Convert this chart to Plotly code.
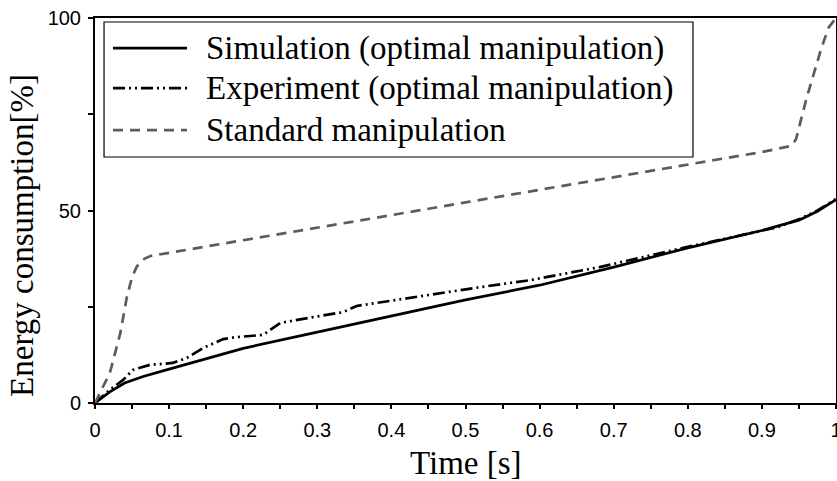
import plotly.graph_objects as go

# ---- data ----
time_sim = [0, 0.02, 0.04, 0.065, 0.1, 0.15, 0.2, 0.3, 0.4, 0.5, 0.6, 0.7, 0.8, 0.9, 0.95, 0.975, 1.0]
energy_sim = [0, 2.9, 5.2, 6.9, 8.8, 11.4, 14.2, 18.4, 22.6, 26.8, 30.6, 35.3, 40.3, 44.8, 47.5, 49.8, 52.8]

time_exp = [0, 0.02, 0.038, 0.051, 0.074, 0.105, 0.124, 0.146, 0.173, 0.19, 0.227, 0.25,
            0.294, 0.335, 0.353, 0.407, 0.475, 0.52, 0.587, 0.681, 0.794, 0.884, 0.92,
            0.95, 0.975, 1.0]
energy_exp = [0, 3.4, 6.0, 8.6, 9.9, 10.4, 11.7, 14.3, 16.6, 17.1, 17.7, 20.8,
              22.3, 23.6, 25.2, 26.8, 28.8, 30.1, 31.9, 35.3, 40.3, 44.2, 45.6,
              47.7, 50.0, 53.0]

time_std = [0, 0.007, 0.02, 0.034, 0.043, 0.05, 0.056, 0.061, 0.067, 0.075, 0.1, 0.2,
            0.3, 0.4, 0.5, 0.6, 0.7, 0.8, 0.9, 0.94, 0.946, 0.952, 0.96, 0.97, 0.98,
            0.99, 1.0]
energy_std = [0, 2.6, 7.8, 18, 27.5, 32.7, 35.3, 36.6, 37.5, 38.2, 39.0, 42.3,
              45.5, 48.8, 52.1, 55.4, 58.7, 62.0, 65.2, 66.8, 68.5, 73, 79, 85.5, 92,
              97.5, 100]

series_names = ["Simulation (optimal manipulation)",
                "Experiment (optimal manipulation)",
                "Standard manipulation"]

x_tick_vals = [0, 0.1, 0.2, 0.3, 0.4, 0.5, 0.6, 0.7, 0.8, 0.9, 1]
x_tick_text = ["0", "0.1", "0.2", "0.3", "0.4", "0.5", "0.6", "0.7", "0.8", "0.9", "1"]
y_tick_vals = [0, 50, 100]
y_tick_text = ["0", "50", "100"]

# ---- styles ----
styles = [
    dict(color="black", width=2.7, dash="solid"),
    dict(color="black", width=2.7, dash="12px,4px,2px,4px,2px,4px"),
    dict(color="#5c5c5c", width=2.7, dash="10px,7px"),
]

SERIF = "Liberation Serif"
SANS = "Liberation Sans"
TXT = 33

fig = go.Figure()
for xs, ys, name, st in [(time_sim, energy_sim, series_names[0], styles[0]),
                         (time_exp, energy_exp, series_names[1], styles[1]),
                         (time_std, energy_std, series_names[2], styles[2])]:
    fig.add_trace(go.Scatter(x=xs, y=ys, mode="lines", name=name, line=st,
                             showlegend=False))

# ---- manual legend (paper coordinates) ----
shapes = [dict(type="rect", xref="paper", yref="paper",
               x0=0.0122, x1=0.807, y0=0.639, y1=0.9896,
               line=dict(color="black", width=1.2), fillcolor="white", layer="above")]
annotations = []
rows = [0.922, 0.818, 0.709]
for i, (name, st) in enumerate(zip(series_names, styles)):
    shapes.append(dict(type="line", xref="paper", yref="paper",
                       x0=0.0243, x1=0.1242, y0=rows[i], y1=rows[i],
                       line=dict(color=st["color"], width=st["width"], dash=st["dash"]),
                       layer="above"))
    annotations.append(dict(xref="paper", yref="paper", x=0.147, y=rows[i],
                            xanchor="left", yanchor="middle", showarrow=False,
                            text=name, font=dict(family=SERIF, size=TXT, color="black")))

annotations.append(dict(xref="paper", yref="paper", x=-0.0985, y=0.434,
                        xanchor="center", yanchor="middle", showarrow=False,
                        textangle=-90, text="Energy consumption[%]",
                        font=dict(family=SERIF, size=TXT, color="black")))
annotations.append(dict(xref="paper", yref="paper", x=0.5, y=-0.156,
                        xanchor="center", yanchor="middle", showarrow=False,
                        text="Time [s]",
                        font=dict(family=SERIF, size=TXT, color="black")))

fig.update_layout(
    width=837, height=481,
    margin=dict(l=95, r=1, t=18, b=78),
    paper_bgcolor="white", plot_bgcolor="white",
    shapes=shapes, annotations=annotations,
    showlegend=False,
)
fig.update_xaxes(range=[0, 1], tickmode="array", tickvals=x_tick_vals, ticktext=x_tick_text,
                 ticks="outside", ticklen=4, tickwidth=1.5, tickcolor="black",
                 minor=dict(dtick=0.05, ticks="outside", ticklen=4, tickwidth=1.5, tickcolor="black"),
                 showline=True, linecolor="black", linewidth=2, mirror=True,
                 showgrid=False, zeroline=False, automargin=False,
                 ticklabeloverflow="allow", ticklabelstandoff=4,
                 tickfont=dict(family=SANS, size=20, color="black"))
fig.update_yaxes(range=[0, 100], tickmode="array", tickvals=y_tick_vals, ticktext=y_tick_text,
                 ticks="outside", ticklen=5, tickwidth=1.5, tickcolor="black",
                 minor=dict(dtick=25, ticks="outside", ticklen=5, tickwidth=1.5, tickcolor="black"),
                 showline=True, linecolor="black", linewidth=2, mirror=True,
                 showgrid=False, zeroline=False, automargin=False,
                 ticklabeloverflow="allow", ticklabelstandoff=3,
                 tickfont=dict(family=SANS, size=20, color="black"))

fig.write_html("out.html", config={"displayModeBar": False},
               post_script="document.body.style.margin='0';document.body.style.overflow='hidden';")
